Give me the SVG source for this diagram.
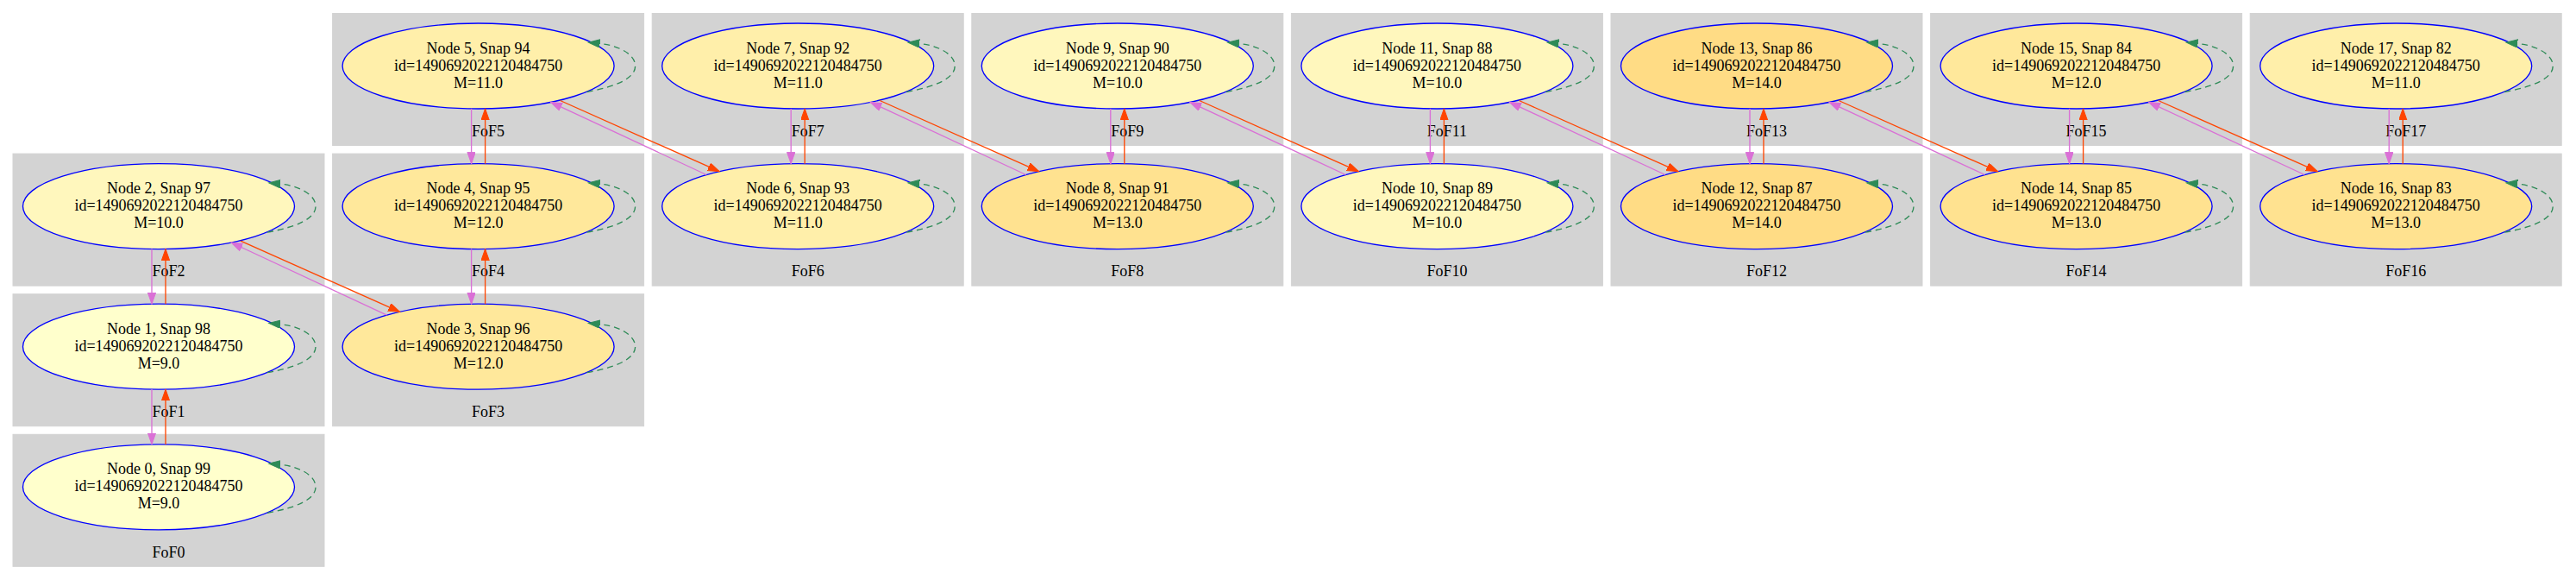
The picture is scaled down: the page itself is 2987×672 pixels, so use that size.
<svg xmlns="http://www.w3.org/2000/svg" width="2987" height="672" viewBox="0 0 2987 672">
<style>
.cl{fill:#d3d3d3;stroke:#d3d3d3;stroke-width:1}
.t{font-family:"Liberation Serif","Times New Roman",serif;font-size:18px;fill:#000;text-anchor:middle}
.nd{stroke:#0000ff;stroke-width:1.33}
.m9{fill:#ffffcc}.m10{fill:#fff7bd}.m11{fill:#ffefaa}.m12{fill:#ffe89b}.m13{fill:#ffe290}.m14{fill:#ffdc85}
.v{stroke:#da70d6;stroke-width:1.33;fill:none;marker-end:url(#av)}
.r{stroke:#ff4500;stroke-width:1.33;fill:none;marker-end:url(#ar)}
.lp{stroke:#2e8b57;stroke-width:1.33;fill:none;stroke-dasharray:7,5;marker-end:url(#ag)}
</style>
<defs>
<marker id="ar" markerUnits="userSpaceOnUse" markerWidth="16" markerHeight="12" refX="13.3" refY="4.67" orient="auto"><path d="M0,0 L13.3,4.67 L0,9.33 z" fill="#ff4500" stroke="#ff4500" stroke-width="1"/></marker>
<marker id="av" markerUnits="userSpaceOnUse" markerWidth="16" markerHeight="12" refX="13.3" refY="4.67" orient="auto"><path d="M0,0 L13.3,4.67 L0,9.33 z" fill="#da70d6" stroke="#da70d6" stroke-width="1"/></marker>
<marker id="ag" markerUnits="userSpaceOnUse" markerWidth="16" markerHeight="12" refX="0" refY="4.67" orient="auto"><path d="M0,0 L13.3,4.67 L0,9.33 z" fill="#2e8b57" stroke="#2e8b57" stroke-width="1" stroke-dasharray="none"/></marker>
</defs>
<rect width="2987" height="672" fill="#ffffff"/>
<g id="clusters">
<g id="FoF0"><rect class="cl" x="15" y="503.3" width="361" height="153"/><text class="t" x="195.5" y="645.6">FoF0</text></g>
<g id="FoF1"><rect class="cl" x="15" y="340.7" width="361" height="153"/><text class="t" x="195.5" y="483">FoF1</text></g>
<g id="FoF2"><rect class="cl" x="15" y="178.1" width="361" height="153"/><text class="t" x="195.5" y="320.4">FoF2</text></g>
<g id="FoF3"><rect class="cl" x="385.6" y="340.7" width="361" height="153"/><text class="t" x="566.1" y="483">FoF3</text></g>
<g id="FoF4"><rect class="cl" x="385.6" y="178.1" width="361" height="153"/><text class="t" x="566.1" y="320.4">FoF4</text></g>
<g id="FoF5"><rect class="cl" x="385.6" y="15.5" width="361" height="153"/><text class="t" x="566.1" y="157.8">FoF5</text></g>
<g id="FoF6"><rect class="cl" x="756.2" y="178.1" width="361" height="153"/><text class="t" x="936.7" y="320.4">FoF6</text></g>
<g id="FoF7"><rect class="cl" x="756.2" y="15.5" width="361" height="153"/><text class="t" x="936.7" y="157.8">FoF7</text></g>
<g id="FoF8"><rect class="cl" x="1126.8" y="178.1" width="361" height="153"/><text class="t" x="1307.3" y="320.4">FoF8</text></g>
<g id="FoF9"><rect class="cl" x="1126.8" y="15.5" width="361" height="153"/><text class="t" x="1307.3" y="157.8">FoF9</text></g>
<g id="FoF10"><rect class="cl" x="1497.4" y="178.1" width="361" height="153"/><text class="t" x="1677.9" y="320.4">FoF10</text></g>
<g id="FoF11"><rect class="cl" x="1497.4" y="15.5" width="361" height="153"/><text class="t" x="1677.9" y="157.8">FoF11</text></g>
<g id="FoF12"><rect class="cl" x="1868" y="178.1" width="361" height="153"/><text class="t" x="2048.5" y="320.4">FoF12</text></g>
<g id="FoF13"><rect class="cl" x="1868" y="15.5" width="361" height="153"/><text class="t" x="2048.5" y="157.8">FoF13</text></g>
<g id="FoF14"><rect class="cl" x="2238.6" y="178.1" width="361" height="153"/><text class="t" x="2419.1" y="320.4">FoF14</text></g>
<g id="FoF15"><rect class="cl" x="2238.6" y="15.5" width="361" height="153"/><text class="t" x="2419.1" y="157.8">FoF15</text></g>
<g id="FoF16"><rect class="cl" x="2609.2" y="178.1" width="361" height="153"/><text class="t" x="2789.7" y="320.4">FoF16</text></g>
<g id="FoF17"><rect class="cl" x="2609.2" y="15.5" width="361" height="153"/><text class="t" x="2789.7" y="157.8">FoF17</text></g>
</g>
<g id="node0" transform="translate(184,564.3)"><ellipse class="nd m9" rx="157.5" ry="49.5"/><text class="t" y="-15">Node 0, Snap 99</text><text class="t" y="5">id=1490692022120484750</text><text class="t" y="25">M=9.0</text></g>
<g id="node1" transform="translate(184,401.7)"><ellipse class="nd m9" rx="157.5" ry="49.5"/><text class="t" y="-15">Node 1, Snap 98</text><text class="t" y="5">id=1490692022120484750</text><text class="t" y="25">M=9.0</text></g>
<g id="node2" transform="translate(184,239.1)"><ellipse class="nd m10" rx="157.5" ry="49.5"/><text class="t" y="-15">Node 2, Snap 97</text><text class="t" y="5">id=1490692022120484750</text><text class="t" y="25">M=10.0</text></g>
<g id="node3" transform="translate(554.6,401.7)"><ellipse class="nd m12" rx="157.5" ry="49.5"/><text class="t" y="-15">Node 3, Snap 96</text><text class="t" y="5">id=1490692022120484750</text><text class="t" y="25">M=12.0</text></g>
<g id="node4" transform="translate(554.6,239.1)"><ellipse class="nd m12" rx="157.5" ry="49.5"/><text class="t" y="-15">Node 4, Snap 95</text><text class="t" y="5">id=1490692022120484750</text><text class="t" y="25">M=12.0</text></g>
<g id="node5" transform="translate(554.6,76.5)"><ellipse class="nd m11" rx="157.5" ry="49.5"/><text class="t" y="-15">Node 5, Snap 94</text><text class="t" y="5">id=1490692022120484750</text><text class="t" y="25">M=11.0</text></g>
<g id="node6" transform="translate(925.2,239.1)"><ellipse class="nd m11" rx="157.5" ry="49.5"/><text class="t" y="-15">Node 6, Snap 93</text><text class="t" y="5">id=1490692022120484750</text><text class="t" y="25">M=11.0</text></g>
<g id="node7" transform="translate(925.2,76.5)"><ellipse class="nd m11" rx="157.5" ry="49.5"/><text class="t" y="-15">Node 7, Snap 92</text><text class="t" y="5">id=1490692022120484750</text><text class="t" y="25">M=11.0</text></g>
<g id="node8" transform="translate(1295.8,239.1)"><ellipse class="nd m13" rx="157.5" ry="49.5"/><text class="t" y="-15">Node 8, Snap 91</text><text class="t" y="5">id=1490692022120484750</text><text class="t" y="25">M=13.0</text></g>
<g id="node9" transform="translate(1295.8,76.5)"><ellipse class="nd m10" rx="157.5" ry="49.5"/><text class="t" y="-15">Node 9, Snap 90</text><text class="t" y="5">id=1490692022120484750</text><text class="t" y="25">M=10.0</text></g>
<g id="node10" transform="translate(1666.4,239.1)"><ellipse class="nd m10" rx="157.5" ry="49.5"/><text class="t" y="-15">Node 10, Snap 89</text><text class="t" y="5">id=1490692022120484750</text><text class="t" y="25">M=10.0</text></g>
<g id="node11" transform="translate(1666.4,76.5)"><ellipse class="nd m10" rx="157.5" ry="49.5"/><text class="t" y="-15">Node 11, Snap 88</text><text class="t" y="5">id=1490692022120484750</text><text class="t" y="25">M=10.0</text></g>
<g id="node12" transform="translate(2037,239.1)"><ellipse class="nd m14" rx="157.5" ry="49.5"/><text class="t" y="-15">Node 12, Snap 87</text><text class="t" y="5">id=1490692022120484750</text><text class="t" y="25">M=14.0</text></g>
<g id="node13" transform="translate(2037,76.5)"><ellipse class="nd m14" rx="157.5" ry="49.5"/><text class="t" y="-15">Node 13, Snap 86</text><text class="t" y="5">id=1490692022120484750</text><text class="t" y="25">M=14.0</text></g>
<g id="node14" transform="translate(2407.6,239.1)"><ellipse class="nd m13" rx="157.5" ry="49.5"/><text class="t" y="-15">Node 14, Snap 85</text><text class="t" y="5">id=1490692022120484750</text><text class="t" y="25">M=13.0</text></g>
<g id="node15" transform="translate(2407.6,76.5)"><ellipse class="nd m12" rx="157.5" ry="49.5"/><text class="t" y="-15">Node 15, Snap 84</text><text class="t" y="5">id=1490692022120484750</text><text class="t" y="25">M=12.0</text></g>
<g id="node16" transform="translate(2778.2,239.1)"><ellipse class="nd m13" rx="157.5" ry="49.5"/><text class="t" y="-15">Node 16, Snap 83</text><text class="t" y="5">id=1490692022120484750</text><text class="t" y="25">M=13.0</text></g>
<g id="node17" transform="translate(2778.2,76.5)"><ellipse class="nd m11" rx="157.5" ry="49.5"/><text class="t" y="-15">Node 17, Snap 82</text><text class="t" y="5">id=1490692022120484750</text><text class="t" y="25">M=11.0</text></g>
<g id="connectors">
<path class="v" d="M176,288.5 L176,352.3"/><path class="r" d="M192,352.3 L192,288.5"/>
<path class="v" d="M176,451.1 L176,514.9"/><path class="r" d="M192,514.9 L192,451.1"/>
<path class="v" d="M546.6,125.9 L546.6,189.7"/><path class="r" d="M562.6,189.7 L562.6,125.9"/>
<path class="v" d="M546.6,288.5 L546.6,352.3"/><path class="r" d="M562.6,352.3 L562.6,288.5"/>
<path class="v" d="M917.2,125.9 L917.2,189.7"/><path class="r" d="M933.2,189.7 L933.2,125.9"/>
<path class="v" d="M1287.8,125.9 L1287.8,189.7"/><path class="r" d="M1303.8,189.7 L1303.8,125.9"/>
<path class="v" d="M1658.4,125.9 L1658.4,189.7"/><path class="r" d="M1674.4,189.7 L1674.4,125.9"/>
<path class="v" d="M2029,125.9 L2029,189.7"/><path class="r" d="M2045,189.7 L2045,125.9"/>
<path class="v" d="M2399.6,125.9 L2399.6,189.7"/><path class="r" d="M2415.6,189.7 L2415.6,125.9"/>
<path class="v" d="M2770.2,125.9 L2770.2,189.7"/><path class="r" d="M2786.2,189.7 L2786.2,125.9"/>
<path class="r" d="M279,279.1 L463.6,361.3"/><path class="v" d="M448.6,365.1 L268,281"/>
<path class="r" d="M649.6,116.5 L834.2,198.7"/><path class="v" d="M819.2,202.5 L638.6,118.4"/>
<path class="r" d="M1020.2,116.5 L1204.8,198.7"/><path class="v" d="M1189.8,202.5 L1009.2,118.4"/>
<path class="r" d="M1390.8,116.5 L1575.4,198.7"/><path class="v" d="M1560.4,202.5 L1379.8,118.4"/>
<path class="r" d="M1761.4,116.5 L1946,198.7"/><path class="v" d="M1931,202.5 L1750.4,118.4"/>
<path class="r" d="M2132,116.5 L2316.6,198.7"/><path class="v" d="M2301.6,202.5 L2121,118.4"/>
<path class="r" d="M2502.6,116.5 L2687.2,198.7"/><path class="v" d="M2672.2,202.5 L2491.6,118.4"/>
<path class="lp" transform="translate(184,564.3)" d="M126,30 C160,24 182,14 182,0 C182,-14 162,-24 141,-26"/>
<path class="lp" transform="translate(184,401.7)" d="M126,30 C160,24 182,14 182,0 C182,-14 162,-24 141,-26"/>
<path class="lp" transform="translate(184,239.1)" d="M126,30 C160,24 182,14 182,0 C182,-14 162,-24 141,-26"/>
<path class="lp" transform="translate(554.6,401.7)" d="M126,30 C160,24 182,14 182,0 C182,-14 162,-24 141,-26"/>
<path class="lp" transform="translate(554.6,239.1)" d="M126,30 C160,24 182,14 182,0 C182,-14 162,-24 141,-26"/>
<path class="lp" transform="translate(554.6,76.5)" d="M126,30 C160,24 182,14 182,0 C182,-14 162,-24 141,-26"/>
<path class="lp" transform="translate(925.2,239.1)" d="M126,30 C160,24 182,14 182,0 C182,-14 162,-24 141,-26"/>
<path class="lp" transform="translate(925.2,76.5)" d="M126,30 C160,24 182,14 182,0 C182,-14 162,-24 141,-26"/>
<path class="lp" transform="translate(1295.8,239.1)" d="M126,30 C160,24 182,14 182,0 C182,-14 162,-24 141,-26"/>
<path class="lp" transform="translate(1295.8,76.5)" d="M126,30 C160,24 182,14 182,0 C182,-14 162,-24 141,-26"/>
<path class="lp" transform="translate(1666.4,239.1)" d="M126,30 C160,24 182,14 182,0 C182,-14 162,-24 141,-26"/>
<path class="lp" transform="translate(1666.4,76.5)" d="M126,30 C160,24 182,14 182,0 C182,-14 162,-24 141,-26"/>
<path class="lp" transform="translate(2037,239.1)" d="M126,30 C160,24 182,14 182,0 C182,-14 162,-24 141,-26"/>
<path class="lp" transform="translate(2037,76.5)" d="M126,30 C160,24 182,14 182,0 C182,-14 162,-24 141,-26"/>
<path class="lp" transform="translate(2407.6,239.1)" d="M126,30 C160,24 182,14 182,0 C182,-14 162,-24 141,-26"/>
<path class="lp" transform="translate(2407.6,76.5)" d="M126,30 C160,24 182,14 182,0 C182,-14 162,-24 141,-26"/>
<path class="lp" transform="translate(2778.2,239.1)" d="M126,30 C160,24 182,14 182,0 C182,-14 162,-24 141,-26"/>
<path class="lp" transform="translate(2778.2,76.5)" d="M126,30 C160,24 182,14 182,0 C182,-14 162,-24 141,-26"/>
</g>
</svg>
